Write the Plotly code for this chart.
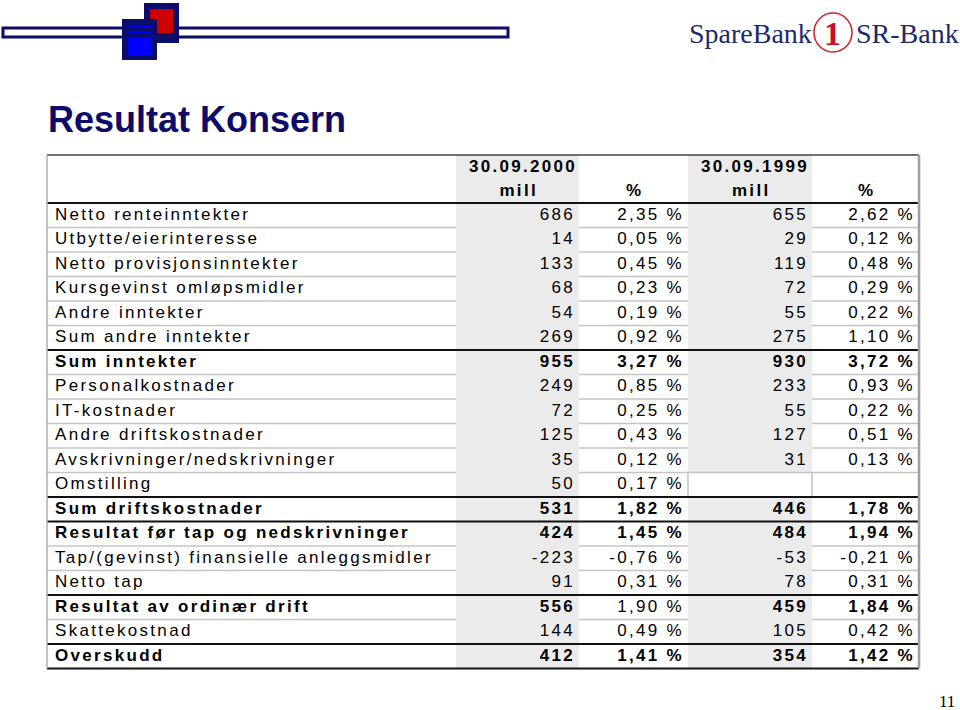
import plotly.graph_objects as go

# ---------------- data ----------------
row_labels = [
    "Netto renteinntekter", "Utbytte/eierinteresse", "Netto provisjonsinntekter",
    "Kursgevinst omløpsmidler", "Andre inntekter", "Sum andre inntekter",
    "Sum inntekter", "Personalkostnader", "IT-kostnader", "Andre driftskostnader",
    "Avskrivninger/nedskrivninger", "Omstilling", "Sum driftskostnader",
    "Resultat før tap og nedskrivninger", "Tap/(gevinst) finansielle anleggsmidler",
    "Netto tap", "Resultat av ordinær drift", "Skattekostnad", "Overskudd",
]
mill_2000 = [686, 14, 133, 68, 54, 269, 955, 249, 72, 125, 35, 50, 531, 424, -223, 91, 556, 144, 412]
pct_2000 = [2.35, 0.05, 0.45, 0.23, 0.19, 0.92, 3.27, 0.85, 0.25, 0.43, 0.12, 0.17, 1.82, 1.45, -0.76, 0.31, 1.90, 0.49, 1.41]
mill_1999 = [655, 29, 119, 72, 55, 275, 930, 233, 55, 127, 31, None, 446, 484, -53, 78, 459, 105, 354]
pct_1999 = [2.62, 0.12, 0.48, 0.29, 0.22, 1.10, 3.72, 0.93, 0.22, 0.51, 0.13, None, 1.78, 1.94, -0.21, 0.31, 1.84, 0.42, 1.42]
period_labels = ["30.09.2000", "30.09.1999"]
unit_labels = ["mill", "%", "mill", "%"]
title_text = "Resultat Konsern"
page_number = "11"

# ---------------- styles ----------------
# bold flags per row: (label, mill_2000, pct_2000, mill_1999, pct_1999)
bold_cells = {
    6: (1, 1, 1, 1, 1),
    12: (1, 1, 1, 1, 1),
    13: (1, 1, 1, 1, 1),
    16: (1, 1, 0, 1, 1),
    18: (1, 1, 1, 1, 1),
}
black_rule_rows = [0, 6, 12, 13, 16, 18]   # rows with a black rule above them
empty_white_cells = [11]                    # 1999 mill cell drawn white

W, H = 960, 710
COL_EDGES = [47, 456, 579, 688, 812, 919]
Y_TOP = 155
HDR_H = 24
ROW_H = 24.5
HDR_BOTTOM = Y_TOP + 2 * HDR_H
N = len(row_labels)
Y_BOTTOM = HDR_BOTTOM + N * ROW_H
LABEL_X = 55
RIGHT_PAD = 4
FONT = "Liberation Sans, Arial, sans-serif"
FS = 17
SPACING = "2.3px"
GRAY_FILL = "#ebebeb"
RULE_GRAY = "#c4c4c4"
NAVY = "#0c0c6a"


def fmt_num(v):
    return "" if v is None else f"{v:d}"


def fmt_pct(v):
    return "" if v is None else f"{v:.2f}".replace(".", ",") + " %"


def b(s, flag):
    return f"<b>{s}</b>" if (flag and s) else s


def row_center(i):
    return HDR_BOTTOM + (i + 0.5) * ROW_H


fig = go.Figure()

# ---------------- shapes ----------------
shapes = []
# gray mill columns
for c in (1, 3):
    shapes.append(dict(type="rect", xref="x", yref="y", x0=COL_EDGES[c], x1=COL_EDGES[c + 1],
                       y0=Y_TOP, y1=Y_BOTTOM, fillcolor=GRAY_FILL, line=dict(width=0), layer="below"))
# white empty cell
for i in empty_white_cells:
    shapes.append(dict(type="rect", xref="x", yref="y", x0=COL_EDGES[3], x1=COL_EDGES[4],
                       y0=HDR_BOTTOM + i * ROW_H, y1=HDR_BOTTOM + (i + 1) * ROW_H,
                       fillcolor="white", line=dict(color=RULE_GRAY, width=1.5), layer="below"))
# gray row rules in white columns
for k in range(1, N):
    if k in black_rule_rows:
        continue
    y = HDR_BOTTOM + k * ROW_H
    for c in (0, 2, 4):
        shapes.append(dict(type="line", xref="x", yref="y", x0=COL_EDGES[c], x1=COL_EDGES[c + 1],
                           y0=y, y1=y, line=dict(color=RULE_GRAY, width=1.5)))
# black rules
for k in black_rule_rows + [N]:
    y = HDR_BOTTOM + k * ROW_H
    shapes.append(dict(type="line", xref="x", yref="y", x0=COL_EDGES[0], x1=COL_EDGES[-1],
                       y0=y, y1=y, line=dict(color="#111111", width=2)))
# outer borders
shapes.append(dict(type="line", xref="x", yref="y", x0=COL_EDGES[0], x1=COL_EDGES[-1],
                   y0=Y_TOP, y1=Y_TOP, line=dict(color="#444444", width=1.5)))
shapes.append(dict(type="line", xref="x", yref="y", x0=COL_EDGES[0], x1=COL_EDGES[0],
                   y0=Y_TOP, y1=Y_BOTTOM, line=dict(color="#b0b0b0", width=1.5)))
shapes.append(dict(type="line", xref="x", yref="y", x0=COL_EDGES[-1], x1=COL_EDGES[-1],
                   y0=Y_TOP, y1=Y_BOTTOM, line=dict(color="#a0a0a0", width=2.5)))

# top-left ornament
shapes.append(dict(type="rect", xref="x", yref="y", x0=3, x1=508, y0=28, y1=37,
                   fillcolor="white", line=dict(color=NAVY, width=3)))
shapes.append(dict(type="rect", xref="x", yref="y", x0=145, x1=178, y0=4, y1=42,
                   fillcolor=NAVY, line=dict(color=NAVY, width=2)))
shapes.append(dict(type="rect", xref="x", yref="y", x0=150, x1=173, y0=9, y1=33,
                   fillcolor="#cc0000", line=dict(width=0)))
shapes.append(dict(type="rect", xref="x", yref="y", x0=123, x1=156, y0=20, y1=59,
                   fillcolor=NAVY, line=dict(color=NAVY, width=2)))
shapes.append(dict(type="rect", xref="x", yref="y", x0=128, x1=152, y0=25, y1=27,
                   fillcolor="#0000ee", line=dict(width=0)))
shapes.append(dict(type="rect", xref="x", yref="y", x0=128, x1=152, y0=31.5, y1=33.5,
                   fillcolor="#0000ee", line=dict(width=0)))
shapes.append(dict(type="rect", xref="x", yref="y", x0=128, x1=152, y0=38, y1=55,
                   fillcolor="#0000ff", line=dict(width=0)))
# logo ring
shapes.append(dict(type="circle", xref="x", yref="y", x0=814, x1=852, y0=13, y1=52,
                   line=dict(color="#d0202a", width=1.5)))

# ---------------- text traces ----------------
xs_right = [COL_EDGES[2] - RIGHT_PAD, COL_EDGES[3] - RIGHT_PAD,
            COL_EDGES[4] - RIGHT_PAD, COL_EDGES[5] - RIGHT_PAD]
ys = [row_center(i) for i in range(N)]

label_txt = [b(l, bold_cells.get(i, (0,) * 5)[0]) for i, l in enumerate(row_labels)]
fig.add_trace(go.Scatter(x=[LABEL_X] * N, y=ys, mode="text", text=label_txt,
                         textposition="middle right",
                         textfont=dict(family=FONT, size=FS, color="black"), hoverinfo="skip"))

cols = [
    [fmt_num(v) for v in mill_2000],
    [fmt_pct(v) for v in pct_2000],
    [fmt_num(v) for v in mill_1999],
    [fmt_pct(v) for v in pct_1999],
]
for c, col in enumerate(cols):
    txt = [b(s, bold_cells.get(i, (0,) * 5)[c + 1]) for i, s in enumerate(col)]
    fig.add_trace(go.Scatter(x=[xs_right[c]] * N, y=ys, mode="text", text=txt,
                             textposition="middle left",
                             textfont=dict(family=FONT, size=FS, color="black"), hoverinfo="skip"))

# header
hdr_y1 = Y_TOP + HDR_H / 2 + 1
hdr_y2 = Y_TOP + HDR_H * 1.5 + 1
fig.add_trace(go.Scatter(x=[xs_right[0] + 2, xs_right[2] + 1], y=[hdr_y1, hdr_y1], mode="text",
                         text=[f"<b>{p}</b>" for p in period_labels], textposition="middle left",
                         textfont=dict(family=FONT, size=FS, color="black"), hoverinfo="skip"))
unit_x = [(COL_EDGES[c] + COL_EDGES[c + 1]) / 2 + 1.2 for c in range(1, 5)]
fig.add_trace(go.Scatter(x=unit_x, y=[hdr_y2] * 4, mode="text",
                         text=[f"<b>{u}</b>" for u in unit_labels], textposition="middle center",
                         textfont=dict(family=FONT, size=FS, color="black"), hoverinfo="skip"))

# ---------------- annotations ----------------
annotations = [
    dict(x=46, y=119, xref="x", yref="y", text=f"<b>{title_text}</b>", showarrow=False,
         xanchor="left", yanchor="middle", font=dict(family=FONT, size=36, color=NAVY)),
    dict(x=814, y=33, xref="x", yref="y", text="SpareBank", showarrow=False,
         xanchor="right", yanchor="middle",
         font=dict(family="Liberation Serif, Times New Roman, serif", size=28, color="#1a2a6c")),
    dict(x=832, y=33, xref="x", yref="y", text="<b>1</b>", showarrow=False,
         xanchor="center", yanchor="middle",
         font=dict(family="Liberation Serif, Times New Roman, serif", size=34, color="#c8102e")),
    dict(x=854, y=33, xref="x", yref="y", text="SR-Bank", showarrow=False,
         xanchor="left", yanchor="middle",
         font=dict(family="Liberation Serif, Times New Roman, serif", size=28, color="#1a2a6c")),
    dict(x=957, y=701, xref="x", yref="y", text=page_number, showarrow=False,
         xanchor="right", yanchor="middle",
         font=dict(family="Liberation Serif, Times New Roman, serif", size=17, color="black")),
]

fig.update_layout(
    width=W, height=H, margin=dict(l=0, r=0, t=0, b=0),
    paper_bgcolor="white", plot_bgcolor="white", showlegend=False,
    xaxis=dict(range=[0, W], visible=False, fixedrange=True),
    yaxis=dict(range=[H, 0], visible=False, fixedrange=True),
    shapes=shapes, annotations=annotations,
)

post = """
document.body.style.margin = '0';
document.body.style.padding = '0';
document.documentElement.style.overflow = 'hidden';
var gd = document.getElementById('{plot_id}');
function spaceText(){
  gd.querySelectorAll('g.textpoint text').forEach(function(t){ t.style.letterSpacing = '""" + SPACING + """'; });
}
spaceText();
gd.on('plotly_afterplot', spaceText);
"""

fig.write_html("out.html", post_script=post, config={"displayModeBar": False, "staticPlot": True})
